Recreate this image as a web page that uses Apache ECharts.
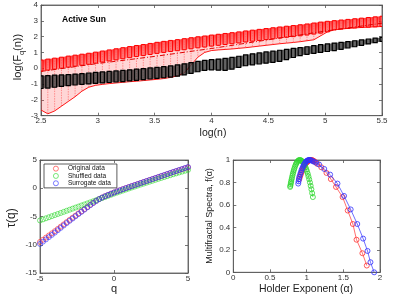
<!DOCTYPE html>
<html><head><meta charset="utf-8">
<script src="https://cdn.jsdelivr.net/npm/echarts@6/dist/echarts.min.js"></script>
<style>html,body{margin:0;padding:0;background:#fff}#c{width:399px;height:299px}</style>
</head><body><div id="c"></div>
<script>
// ---------- Top panel: log(Fq(n)) vs log(n) ----------
const logN = [2.50,2.56,2.62,2.68,2.74,2.80,2.86,2.92,2.98,3.04,3.10,3.16,3.22,3.28,3.34,3.40,3.46,3.52,3.58,3.64,3.70,3.76,3.82,3.88,3.94,4.00,4.06,4.12,4.18,4.24,4.30,4.36,4.42,4.48,4.54,4.60,4.66,4.72,4.78,4.84,4.90,4.96,5.02,5.08,5.14,5.20,5.26,5.32,5.38,5.44,5.50];
const redHigh = [0.52,0.58,0.64,0.70,0.77,0.83,0.89,0.95,1.02,1.09,1.16,1.23,1.30,1.37,1.44,1.50,1.57,1.64,1.70,1.76,1.81,1.87,1.93,1.99,2.04,2.10,2.15,2.20,2.25,2.30,2.36,2.41,2.46,2.51,2.56,2.61,2.66,2.70,2.75,2.80,2.86,2.92,2.97,3.01,3.05,3.09,3.13,3.17,3.21,3.25,3.29];
const redLow = [-2.64,-2.88,-2.70,-2.40,-2.10,-1.80,-1.45,-1.20,-1.08,-1.02,-0.97,-0.93,-0.89,-0.85,-0.82,-0.78,-0.74,-0.70,-0.65,-0.58,-0.48,-0.30,0.20,0.70,1.00,1.12,1.16,1.19,1.22,1.26,1.30,1.35,1.40,1.45,1.50,1.55,1.59,1.63,1.68,1.74,1.80,2.05,2.30,2.43,2.48,2.52,2.55,2.58,2.60,2.62,2.64];
const blackHigh = [-0.48,-0.46,-0.44,-0.42,-0.40,-0.37,-0.34,-0.30,-0.26,-0.23,-0.20,-0.17,-0.14,-0.10,-0.06,-0.02,0.02,0.06,0.10,0.15,0.21,0.28,0.36,0.44,0.50,0.55,0.58,0.63,0.69,0.76,0.84,0.91,0.97,1.03,1.08,1.14,1.20,1.26,1.31,1.36,1.43,1.49,1.54,1.59,1.64,1.69,1.74,1.79,1.85,1.90,1.95];
const blackLow = [-1.28,-1.25,-1.20,-1.15,-1.10,-1.06,-1.02,-0.99,-0.96,-0.93,-0.90,-0.87,-0.84,-0.80,-0.76,-0.72,-0.68,-0.64,-0.60,-0.56,-0.50,-0.42,-0.32,-0.22,-0.14,-0.10,-0.12,-0.14,-0.06,0.06,0.16,0.22,0.27,0.32,0.37,0.44,0.55,0.68,0.80,0.88,0.94,1.00,1.06,1.12,1.20,1.28,1.36,1.45,1.54,1.62,1.70];
const midLogN = [2.5,3.0,3.5,4.0,4.5,5.0,5.5];
const redMid = [-0.2,0.3,0.75,1.25,1.8,2.35,2.85];

// ---------- Bottom-left: tau(q) ----------
const qValues = [-5.0,-4.8,-4.6,-4.4,-4.2,-4.0,-3.8,-3.6,-3.4,-3.2,-3.0,-2.8,-2.6,-2.4,-2.2,-2.0,-1.8,-1.6,-1.4,-1.2,-1.0,-0.8,-0.6,-0.4,-0.2,0.0,0.2,0.4,0.6,0.8,1.0,1.2,1.4,1.6,1.8,2.0,2.2,2.4,2.6,2.8,3.0,3.2,3.4,3.6,3.8,4.0,4.2,4.4,4.6,4.8,5.0];
const tauOriginal = [-9.50,-9.12,-8.74,-8.36,-7.98,-7.60,-7.20,-6.80,-6.40,-6.00,-5.60,-5.22,-4.84,-4.46,-4.08,-3.70,-3.31,-2.93,-2.56,-2.22,-1.90,-1.64,-1.40,-1.17,-0.96,-0.75,-0.55,-0.36,-0.17,0.02,0.20,0.38,0.56,0.74,0.92,1.10,1.27,1.45,1.62,1.80,1.97,2.15,2.32,2.50,2.67,2.85,3.02,3.19,3.36,3.53,3.70];
const tauShuffled = [-5.70,-5.51,-5.32,-5.13,-4.94,-4.75,-4.56,-4.37,-4.18,-3.99,-3.80,-3.61,-3.42,-3.24,-3.05,-2.87,-2.68,-2.49,-2.30,-2.11,-1.92,-1.73,-1.54,-1.34,-1.15,-0.95,-0.77,-0.59,-0.41,-0.23,-0.05,0.13,0.30,0.48,0.65,0.82,0.99,1.16,1.33,1.50,1.67,1.83,1.99,2.15,2.31,2.48,2.63,2.79,2.94,3.10,3.25];
const tauSurrogate = [-9.85,-9.45,-9.05,-8.65,-8.25,-7.85,-7.43,-7.01,-6.59,-6.17,-5.76,-5.36,-4.96,-4.56,-4.17,-3.78,-3.38,-2.99,-2.61,-2.25,-1.92,-1.64,-1.40,-1.17,-0.96,-0.75,-0.55,-0.36,-0.17,0.02,0.20,0.38,0.56,0.74,0.92,1.10,1.28,1.46,1.63,1.81,1.99,2.17,2.34,2.52,2.70,2.88,3.05,3.23,3.40,3.58,3.75];

// ---------- Bottom-right: f(alpha) ----------
const alphaOriginal = [0.90,0.91,0.92,0.93,0.94,0.95,0.96,0.97,0.98,0.99,1.00,1.01,1.02,1.03,1.04,1.05,1.06,1.07,1.08,1.09,1.10,1.12,1.145,1.20,1.27,1.33,1.40,1.49,1.56,1.63,1.68,1.76,1.82];
const fOriginal = [0.83,0.85,0.87,0.89,0.905,0.92,0.935,0.95,0.96,0.97,0.978,0.985,0.99,0.995,0.998,1.0,1.0,0.999,0.997,0.994,0.99,0.98,0.965,0.935,0.885,0.83,0.76,0.67,0.55,0.43,0.29,0.17,0.06];
const alphaShuffled = [0.775,0.778,0.782,0.786,0.79,0.795,0.80,0.806,0.812,0.818,0.825,0.832,0.84,0.848,0.856,0.865,0.874,0.884,0.894,0.905,0.915,0.925,0.935,0.945,0.955,0.965,0.975,0.985,0.995,1.005,1.015,1.025,1.035,1.045,1.055,1.065,1.075,1.085];
const fShuffled = [0.76,0.77,0.785,0.799,0.812,0.828,0.843,0.861,0.877,0.893,0.909,0.924,0.94,0.954,0.966,0.977,0.986,0.994,0.998,1.0,0.999,0.996,0.991,0.984,0.975,0.963,0.95,0.935,0.917,0.898,0.877,0.853,0.828,0.80,0.77,0.739,0.705,0.67];
const alphaSurrogate = [0.885,0.89,0.895,0.90,0.91,0.92,0.93,0.94,0.95,0.96,0.97,0.98,0.99,1.00,1.01,1.02,1.03,1.04,1.05,1.06,1.08,1.10,1.13,1.17,1.24,1.32,1.42,1.51,1.60,1.69,1.77,1.83,1.87,1.92];
const fSurrogate = [0.79,0.81,0.83,0.85,0.87,0.89,0.91,0.925,0.94,0.955,0.965,0.975,0.985,0.99,0.995,0.998,1.0,1.0,0.999,0.997,0.99,0.985,0.975,0.96,0.92,0.87,0.79,0.68,0.56,0.43,0.30,0.19,0.09,0.0];

const seriesNames = ['Original data','Shuffled data','Surrogate data'];
const seriesColors = ['#ff3030','#30d830','#3030ff'];

const FONT = '"Liberation Sans", Arial, sans-serif';
const chart = echarts.init(document.getElementById('c'), null, {renderer:'canvas'});

function axis(dim, grid, min, max, interval, mirror) {
  return {
    type:'value', gridIndex:grid, min:min, max:max, interval:interval,
    position: dim === 'x' ? (mirror ? 'top' : 'bottom') : (mirror ? 'right' : 'left'),
    axisLine:{show:true, onZero:false, lineStyle:{color:'#555', width:0.8}},
    axisTick:{show:true, inside:true, length:3, lineStyle:{color:'#555', width:0.8}},
    axisLabel:{show:!mirror, fontSize:8, color:'#333', margin: dim === 'x' ? 1.5 : 3, fontFamily:FONT},
    splitLine:{show:false}
  };
}

const DENSE = 0.7;
function bandData(lows, highs) { return logN.map((x, i) => [x, lows[i], highs[i]]); }

function redBandRender(params, api) {
  const i = params.dataIndex;
  const x = logN[i];
  const pH = api.coord([x, redHigh[i]]);
  const pL = api.coord([x, redLow[i]]);
  const kids = [];
  if (i < logN.length - 1) {
    const x2 = logN[i+1];
    kids.push({type:'polygon', shape:{points:[pL, pH, api.coord([x2, redHigh[i+1]]), api.coord([x2, redLow[i+1]])]},
      style:{fill:'rgba(255,70,70,0.22)'}});
  }
  kids.push({type:'line', shape:{x1:pH[0], y1:pH[1], x2:pL[0], y2:pL[1]},
    style:{stroke:'rgba(255,0,0,0.45)', lineWidth:0.8, lineDash:[1.5,1]}});
  return {type:'group', children:kids};
}
function redDenseRender(params, api) {
  const i = params.dataIndex;
  const x = logN[i];
  const top = redHigh[i];
  const bot = Math.max(redHigh[i] - DENSE, redLow[i]);
  const pH = api.coord([x, top]);
  const pB = api.coord([x, bot]);
  const kids = [];
  if (i < logN.length - 1) {
    const x2 = logN[i+1];
    const bot2 = Math.max(redHigh[i+1] - DENSE, redLow[i+1]);
    kids.push({type:'polygon', shape:{points:[pB, pH, api.coord([x2, redHigh[i+1]]), api.coord([x2, bot2])]},
      style:{fill:new echarts.graphic.LinearGradient(0,0,0,1,[{offset:0,color:'rgba(255,0,0,0.7)'},{offset:1,color:'rgba(255,0,0,0.35)'}])}});
  }
  kids.push({type:'rect', shape:{x:pH[0]-2, y:pH[1], width:4, height:pB[1]-pH[1]},
    style:{fill:'rgba(255,120,120,0.5)', stroke:'#ff0000', lineWidth:1}});
  return {type:'group', children:kids};
}
function blackRender(params, api) {
  const i = params.dataIndex;
  const x = logN[i];
  const pH = api.coord([x, blackHigh[i]]);
  const pL = api.coord([x, blackLow[i]]);
  const kids = [];
  if (i < logN.length - 1) {
    const x2 = logN[i+1];
    kids.push({type:'polygon', shape:{points:[pL, pH, api.coord([x2, blackHigh[i+1]]), api.coord([x2, blackLow[i+1]])]},
      style:{fill:'rgba(0,0,0,0.6)'}});
  }
  kids.push({type:'rect', shape:{x:pH[0]-2, y:pH[1], width:4, height:pL[1]-pH[1]},
    style:{fill:'rgba(90,90,90,0.6)', stroke:'#000', lineWidth:1.2}});
  return {type:'group', children:kids};
}

const series = [
  {type:'custom', name:'redBand', xAxisIndex:0, yAxisIndex:0, data:bandData(redLow, redHigh), encode:{x:0, y:[1,2]}, renderItem:redBandRender, clip:true, silent:true, z:1},
  {type:'line', name:'redLowEdge', xAxisIndex:0, yAxisIndex:0, data:logN.map((x,i)=>[x, redLow[i]]), showSymbol:false, lineStyle:{color:'#ff0000', width:0.9}, silent:true, z:2},
  {type:'custom', name:'redDense', xAxisIndex:0, yAxisIndex:0, data:bandData(redLow, redHigh), encode:{x:0, y:[1,2]}, renderItem:redDenseRender, clip:true, silent:true, z:3},
  {type:'line', name:'redMid', xAxisIndex:0, yAxisIndex:0, data:midLogN.map((x,i)=>[x, redMid[i]]), showSymbol:false, lineStyle:{color:'#e00000', width:1, type:[5,2,1,2]}, silent:true, z:4},
  {type:'custom', name:'blackBand', xAxisIndex:0, yAxisIndex:0, data:bandData(blackLow, blackHigh), encode:{x:0, y:[1,2]}, renderItem:blackRender, clip:true, silent:true, z:5}
];

const tauSets = [tauOriginal, tauShuffled, tauSurrogate];
tauSets.forEach((arr, k) => {
  series.push({type:'scatter', name:seriesNames[k], xAxisIndex:2, yAxisIndex:2,
    data:qValues.map((q,i)=>[q, arr[i]]), symbol:'circle', symbolSize:5,
    itemStyle:{color:'rgba(255,255,255,0)', borderColor:seriesColors[k], borderWidth:0.8}, z:3+k});
});
const specSets = [[alphaOriginal, fOriginal],[alphaShuffled, fShuffled],[alphaSurrogate, fSurrogate]];
specSets.forEach((s, k) => {
  series.push({type:'line', name:seriesNames[k], xAxisIndex:4, yAxisIndex:4,
    data:s[0].map((a,i)=>[a, s[1][i]]), symbol:'circle', symbolSize:5, showAllSymbol:true,
    itemStyle:{color:'rgba(255,255,255,0)', borderColor:seriesColors[k], borderWidth:0.8},
    lineStyle:{color:seriesColors[k], width:0.7}, z:3+k});
});

const option = {
  backgroundColor:'#fff',
  animation:false,
  grid:[
    {left:41, top:5, width:341, height:110.7, show:true, borderColor:'#555', borderWidth:0.8},
    {left:40, top:160, width:148, height:113, show:true, borderColor:'#555', borderWidth:0.8},
    {left:233.3, top:160, width:146.7, height:112.3, show:true, borderColor:'#555', borderWidth:0.8}
  ],
  xAxis:[
    axis('x',0,2.5,5.5,0.5,false), axis('x',0,2.5,5.5,0.5,true),
    axis('x',1,-5,5,5,false), axis('x',1,-5,5,5,true),
    axis('x',2,0,2,0.5,false), axis('x',2,0,2,0.5,true)
  ],
  yAxis:[
    axis('y',0,-3,4,1,false), axis('y',0,-3,4,1,true),
    axis('y',1,-15,5,5,false), axis('y',1,-15,5,5,true),
    axis('y',2,0,1,0.2,false), axis('y',2,0,1,0.2,true)
  ],
  legend:{
    data:seriesNames.map((n,k)=>({name:n, icon:'circle',
      itemStyle:{color:'rgba(255,255,255,0)', borderColor:seriesColors[k], borderWidth:0.8}})),
    orient:'vertical', left:44, top:164,
    itemWidth:14, itemHeight:5, itemGap:0, padding:[1,6,1,9],
    borderColor:'#333', borderWidth:0.8, borderRadius:0, backgroundColor:'#fff',
    textStyle:{fontSize:6.5, color:'#111', fontFamily:FONT, lineHeight:7.3}, selectedMode:false
  },
  graphic:[
    {type:'text', x:62, y:20, style:{text:'Active Sun', fontSize:8.5, fontWeight:'bold', fontFamily:FONT, fill:'#000', align:'left', verticalAlign:'middle'}},
    {type:'text', x:213, y:133, style:{text:'log(n)', fontSize:10.5, fontFamily:FONT, fill:'#222', align:'center', verticalAlign:'middle'}},
    {type:'text', x:18, y:57, rotation:Math.PI/2, style:{text:'{n|log(F}{s|q}{n|(n))}', fontFamily:FONT, fill:'#222', align:'center', verticalAlign:'middle',
      rich:{n:{fontSize:11, lineHeight:15, fontFamily:FONT}, s:{fontSize:7.5, lineHeight:15, verticalAlign:'bottom', fontFamily:FONT}}}},
    {type:'text', x:114, y:289, style:{text:'q', fontSize:11, fontFamily:FONT, fill:'#222', align:'center', verticalAlign:'middle'}},
    {type:'text', x:12, y:218, rotation:Math.PI/2, style:{text:'\u03c4(q)', fontSize:12, fontFamily:FONT, fill:'#222', align:'center', verticalAlign:'middle'}},
    {type:'text', x:306, y:289, style:{text:'Holder Exponent (\u03b1)', fontSize:10.5, fontFamily:FONT, fill:'#222', align:'center', verticalAlign:'middle'}},
    {type:'text', x:210, y:216, rotation:Math.PI/2, style:{text:'Multifractal Spectra, f(\u03b1)', fontSize:9, fontFamily:FONT, fill:'#222', align:'center', verticalAlign:'middle'}}
  ],
  series:series
};
chart.setOption(option);
</script></body></html>
